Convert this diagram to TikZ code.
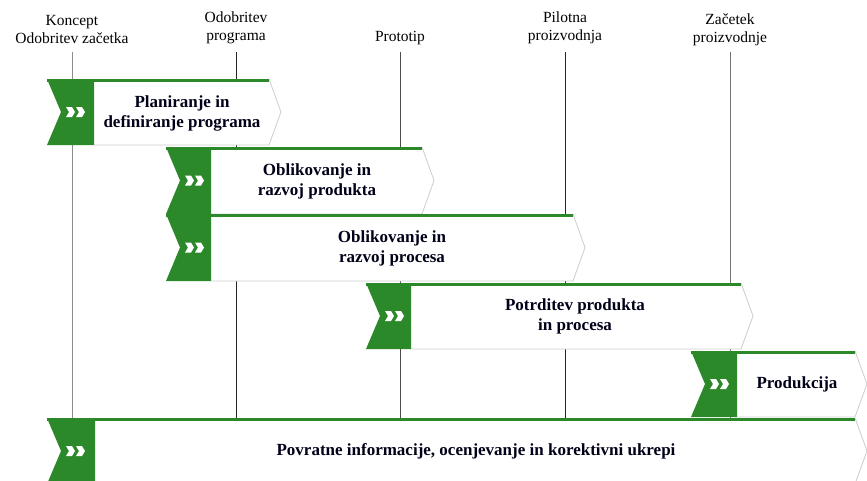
\documentclass[tikz,border=0pt]{standalone}
\usepackage{fontspec}
\setmainfont{Liberation Serif}
\definecolor{pg}{RGB}{44,137,42}
\definecolor{edgegray}{RGB}{205,205,205}
\tikzset{
  edge/.style={draw=edgegray, line width=0.8pt},
  greenbar/.style={draw=pg, line width=3pt},
  msline/.style={line width=0.8pt},
  phasetext/.style={align=center, font=\fontsize{17}{20}\selectfont\bfseries, text=black!90!blue},
  mstext/.style={align=center, font=\fontsize{15.5}{18}\selectfont, text=black},
}
\newcommand\chevicon[2]{%
  \fill[white] ({#1},{#2-5}) -- ({#1+6},{#2-5}) -- ({#1+9},{#2}) -- ({#1+6},{#2+5}) -- ({#1},{#2+5}) -- ({#1+3},{#2}) -- cycle;}
\newcommand\phaserow[5]{% L G E T B
  \fill[white] ({#2},{#4}) -- ({#3},{#4}) -- ({#3+12},{(#4+#5)/2}) -- ({#3},{#5}) -- ({#2},{#5}) -- cycle;
  \draw[edge] ({#3},{#4}) -- ({#3+12},{(#4+#5)/2}) -- ({#3},{#5}) -- ({#2},{#5});
  \fill[pg] ({#1},{#4}) -- ({#2},{#4}) -- ({#2},{#5}) -- ({#1},{#5}) -- ({#1+14},{(#4+#5)/2}) -- cycle;
  \draw[greenbar] ({#1},{#4+1.5}) -- ({#3},{#4+1.5});
  \chevicon{#1+19}{(#4+#5)/2}
  \chevicon{#1+29}{(#4+#5)/2}
}
\begin{document}
\begin{tikzpicture}[x=1pt,y=-1pt]
\useasboundingbox (0,0) rectangle (867,480);
% milestone lines
\draw[msline, black!45] (72,52) -- (72,418);
\draw[msline, black!85] (236,52) -- (236,418);
\draw[msline, black!70] (400,52) -- (400,418);
\draw[msline, black!85] (565,52) -- (565,418);
\draw[msline, black!55] (730,52) -- (730,418);
% milestone labels
\node[mstext] (m1) at (72,29) {Koncept\\Odobritev začetka};
\node[mstext] (m2) at (236,28) {Odobritev\\programa};
\node[mstext] (m3) at (400,38) {Prototip};
\node[mstext] (m4) at (565,28) {Pilotna\\proizvodnja};
\node[mstext] (m5) at (730,30) {Začetek\\proizvodnje};
% phases
\phaserow{47}{94}{269}{79}{145}
\phaserow{166}{211}{422}{147}{214}
\phaserow{166}{211}{573}{214}{281}
\phaserow{366}{411}{741}{283}{349}
\phaserow{691}{737}{855}{351}{417}
\phaserow{47}{95}{855}{418}{484}
% phase texts
\node[phasetext] (p1) at (182,113) {Planiranje in\\definiranje programa};
\node[phasetext] (p2) at (317,181) {Oblikovanje in\\razvoj produkta};
\node[phasetext] (p3) at (392,248) {Oblikovanje in\\razvoj procesa};
\node[phasetext] (p4) at (575,316) {Potrditev produkta\\in procesa};
\node[phasetext] (p5) at (797,384) {Produkcija};
\node[phasetext] (p6) at (476,451) {Povratne informacije, ocenjevanje in korektivni ukrepi};
\end{tikzpicture}
\end{document}
